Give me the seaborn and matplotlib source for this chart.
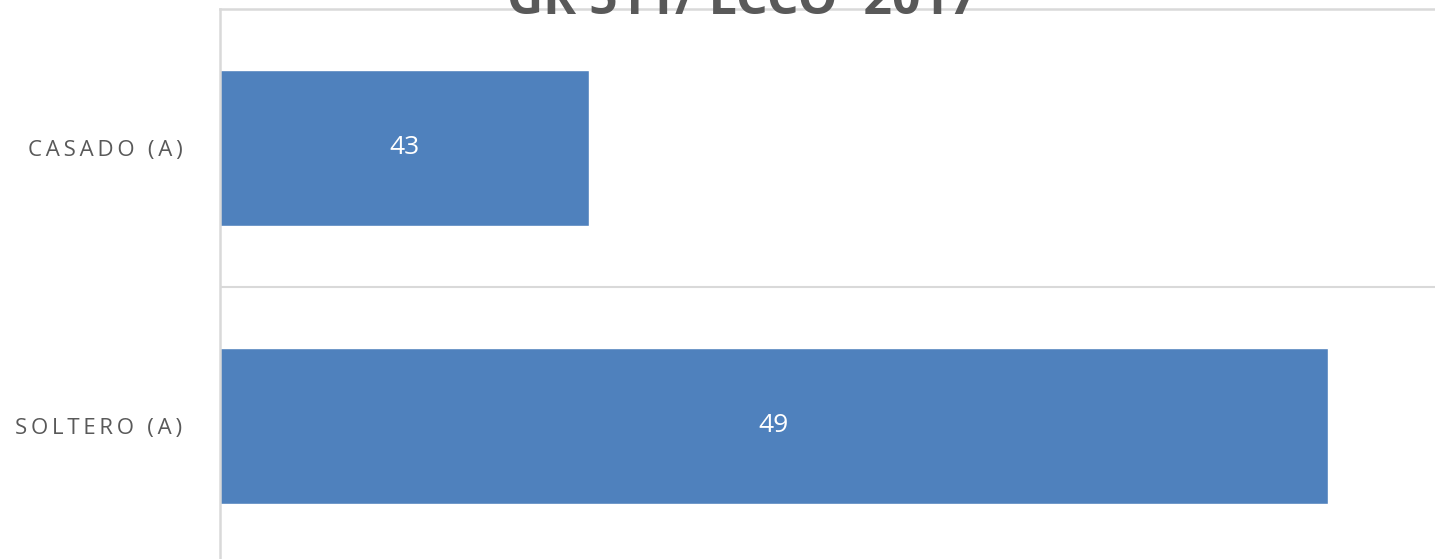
import matplotlib
matplotlib.use("Agg")
import matplotlib.pyplot as plt
import seaborn as sns
import pandas as pd

# Data
categories = ["CASADO (A)", "SOLTERO (A)"]
values = [43, 49]
title_text = "GR 511/ LCCO  2017"
x_min, x_max = 40, 50

BAR = "#4f81bd"
GRID = "#d9d9d9"
TEXT = "#595959"

sns.set_theme(style="white")
plt.rcParams["font.family"] = ["Open Sans", "DejaVu Sans"]

W, H = 1435, 559
fig = plt.figure(figsize=(W / 100, H / 100), dpi=100)
ax = fig.add_axes([220 / W, -6 / H, 1231 / W, 556 / H])

df = pd.DataFrame({"category": categories, "value": values})
sns.barplot(data=df, y="category", x="value", orient="h", color=BAR,
            saturation=1, width=0.56, ax=ax)

ax.set_xlim(x_min, x_max)
ax.set_ylim(1.5, -0.5)
ax.set_xlabel("")
ax.set_ylabel("")
ax.set_xticks([])

# Letter-spaced category labels (thin spaces between characters)
ax.set_yticks(range(len(categories)))
ax.set_yticklabels(["\u2009".join(c) for c in categories])

# Category separators
ax.axhline(0.5, color=GRID, lw=1.5, zorder=0)
for side in ["right", "bottom"]:
    ax.spines[side].set_visible(False)
for side in ["top", "left"]:
    ax.spines[side].set_color(GRID)
    ax.spines[side].set_linewidth(1.8)

ax.tick_params(axis="y", length=0, pad=27, labelsize=16, labelcolor=TEXT)

# Value labels centred on the visible part of each bar
for i, v in enumerate(values):
    ax.text((x_min + v) / 2, i, str(v), ha="center", va="center",
            color="white", fontsize=19)

fig.text(0.517, 1 - 14 / H, title_text, ha="center", va="baseline",
         fontsize=36, fontweight="bold", color=TEXT)

fig.savefig("out.png", dpi=100)
